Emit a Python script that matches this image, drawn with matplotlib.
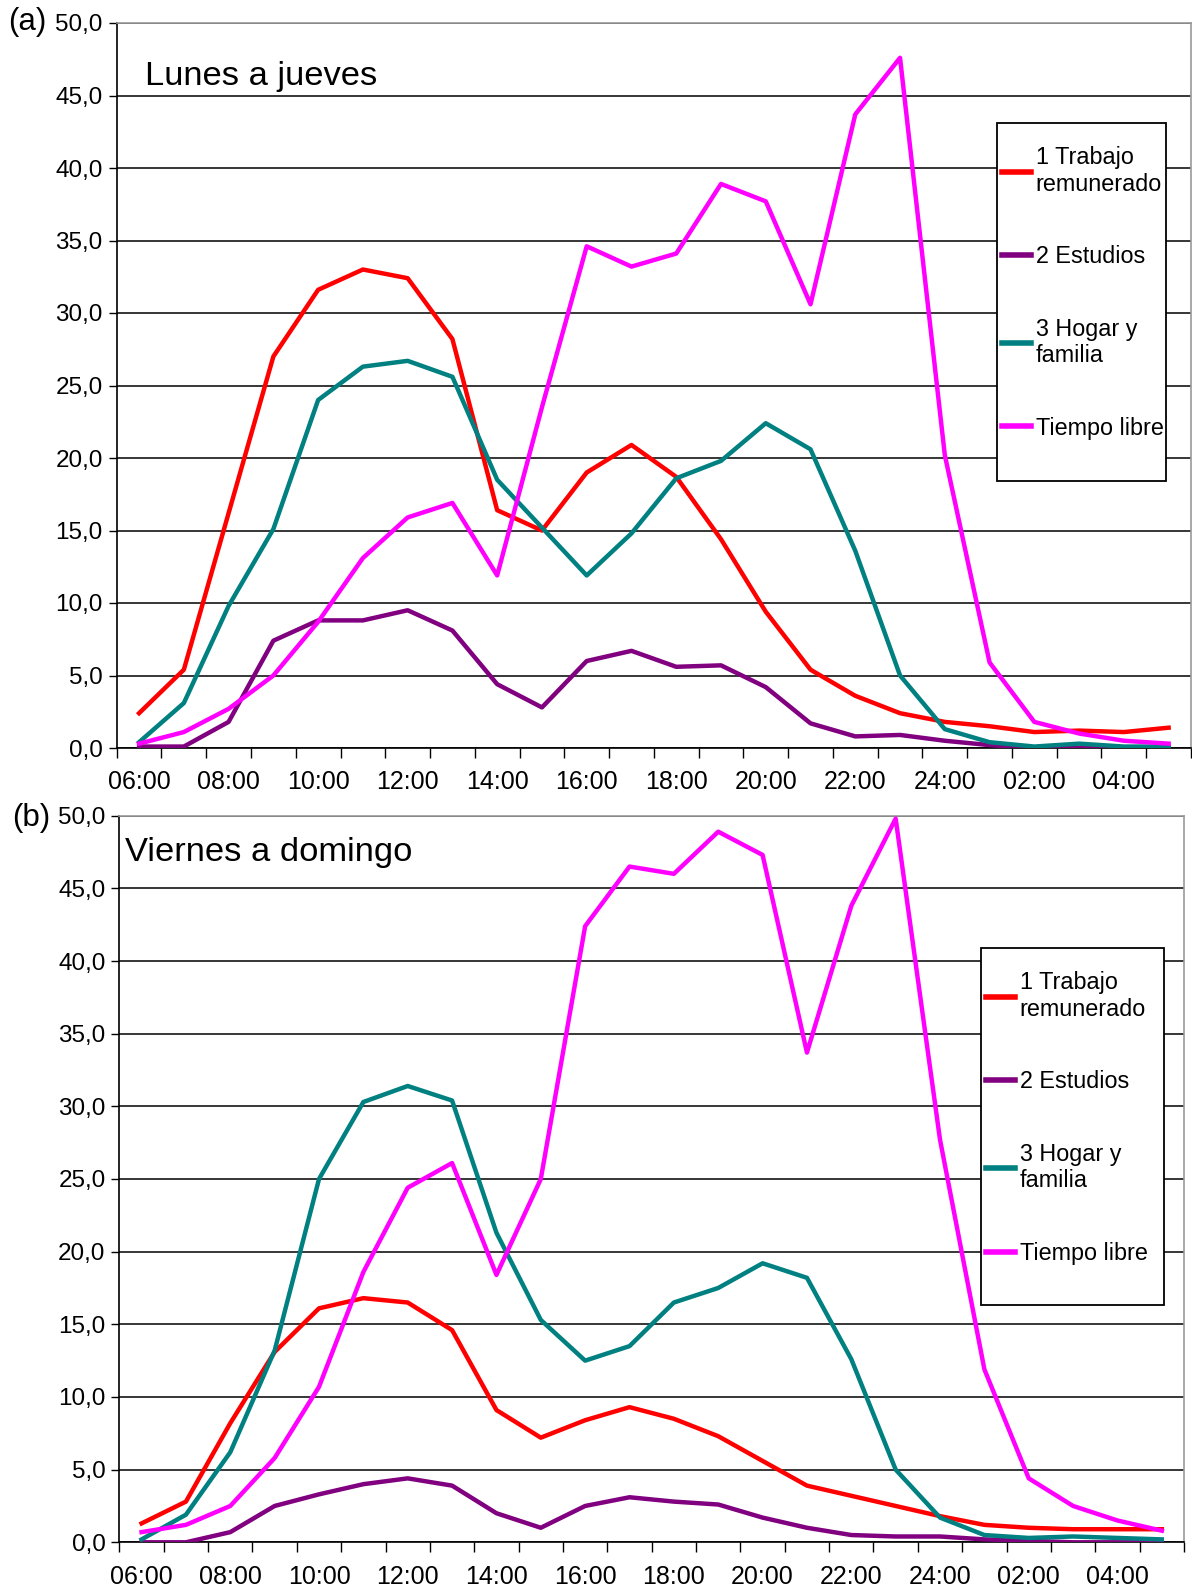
import numpy as np
import matplotlib
matplotlib.use("Agg")
import matplotlib.pyplot as plt
from matplotlib.patches import Rectangle

plt.rcParams['font.family'] = ['Liberation Sans', 'DejaVu Sans']

# Data: share of people (%) in each activity, by hour of the day
horas = ['06:00', '07:00', '08:00', '09:00', '10:00', '11:00', '12:00', '13:00',
         '14:00', '15:00', '16:00', '17:00', '18:00', '19:00', '20:00', '21:00',
         '22:00', '23:00', '24:00', '01:00', '02:00', '03:00', '04:00', '05:00']

series_names = ['1 Trabajo\nremunerado', '2 Estudios', '3 Hogar y\nfamilia', 'Tiempo libre']
series_colors = ['#FF0000', '#800080', '#008080', '#FF00FF']

# (a) Lunes a jueves
trabajo_a = [2.4, 5.4, 16.2, 27.0, 31.6, 33.0, 32.4, 28.2, 16.4, 15.0, 19.0, 20.9,
             18.7, 14.4, 9.4, 5.4, 3.6, 2.4, 1.8, 1.5, 1.1, 1.2, 1.1, 1.4]
estudios_a = [0.1, 0.1, 1.8, 7.4, 8.8, 8.8, 9.5, 8.1, 4.4, 2.8, 6.0, 6.7,
              5.6, 5.7, 4.2, 1.7, 0.8, 0.9, 0.5, 0.2, 0.0, 0.0, 0.0, 0.0]
hogar_a = [0.4, 3.1, 9.8, 15.1, 24.0, 26.3, 26.7, 25.6, 18.5, 15.2, 11.9, 14.8,
           18.6, 19.8, 22.4, 20.6, 13.6, 5.0, 1.3, 0.4, 0.1, 0.3, 0.1, 0.1]
libre_a = [0.3, 1.1, 2.7, 5.0, 8.7, 13.1, 15.9, 16.9, 11.9, 23.5, 34.6, 33.2,
           34.1, 38.9, 37.7, 30.6, 43.7, 47.6, 20.2, 5.9, 1.8, 1.0, 0.5, 0.3]

# (b) Viernes a domingo
trabajo_b = [1.3, 2.8, 8.2, 13.1, 16.1, 16.8, 16.5, 14.6, 9.1, 7.2, 8.4, 9.3,
             8.5, 7.3, 5.6, 3.9, 3.2, 2.5, 1.8, 1.2, 1.0, 0.9, 0.9, 0.9]
estudios_b = [0.0, 0.0, 0.7, 2.5, 3.3, 4.0, 4.4, 3.9, 2.0, 1.0, 2.5, 3.1,
              2.8, 2.6, 1.7, 1.0, 0.5, 0.4, 0.4, 0.2, 0.1, 0.0, 0.0, 0.0]
hogar_b = [0.2, 1.9, 6.2, 13.2, 25.0, 30.3, 31.4, 30.4, 21.3, 15.3, 12.5, 13.5,
           16.5, 17.5, 19.2, 18.2, 12.6, 5.0, 1.7, 0.5, 0.3, 0.4, 0.3, 0.2]
libre_b = [0.7, 1.2, 2.5, 5.8, 10.7, 18.6, 24.4, 26.1, 18.4, 25.0, 42.4, 46.5,
           46.0, 48.9, 47.3, 33.7, 43.8, 49.8, 27.7, 11.9, 4.4, 2.5, 1.5, 0.8]

# layout in pixels of the 1192x1590 figure
panels = [
    {'tag': '(a)', 'title': 'Lunes a jueves',
     'data': [trabajo_a, estudios_a, hogar_a, libre_a],
     'rect': [116.7, 23, 1191, 748], 'title_pos': (145, 76),
     'legbox': [997, 123, 1166, 481], 'tag_pos': (8, 22)},
    {'tag': '(b)', 'title': 'Viernes a domingo',
     'data': [trabajo_b, estudios_b, hogar_b, libre_b],
     'rect': [119.4, 815.7, 1184, 1542.3], 'title_pos': (125, 853),
     'legbox': [980.8, 948.3, 1163.6, 1305], 'tag_pos': (12, 818)},
]

W, H = 1192, 1590
fig = plt.figure(figsize=(W / 100, H / 100), dpi=100)

x = np.arange(len(horas))
yticks = np.arange(0, 50.1, 5)

for p in panels:
    l, t, r, b = p['rect']
    ax = fig.add_axes([l / W, 1 - b / H, (r - l) / W, (b - t) / H])

    def to_axes(px, py):
        return (px - l) / (r - l), (b - py) / (b - t)

    for vals, name, col in zip(p['data'], series_names, series_colors):
        ax.plot(x, vals, color=col, lw=3.2, label=name, zorder=3)

    ax.set_xlim(-0.5, len(horas) - 0.5)
    ax.set_ylim(0, 50)

    # y axis with comma decimals and black gridlines
    ax.set_yticks(yticks, [f"{v:.1f}".replace('.', ',') for v in yticks])
    ax.yaxis.grid(True, color='black', lw=1.1, zorder=1)
    ax.tick_params(axis='y', length=6, width=1, pad=4, labelsize=17.5)

    # x axis: tick marks between categories, labels every two hours
    ax.set_xticks(x[::2], horas[::2])
    ax.set_xticks(np.arange(-0.5, len(horas), 1), minor=True)
    ax.tick_params(axis='x', which='major', length=0, pad=16, labelsize=18)
    ax.tick_params(axis='x', which='minor', length=7, width=1, direction='out')

    for side in ['left', 'bottom']:
        ax.spines[side].set_color('black')
        ax.spines[side].set_linewidth(1.2)
    for side in ['top', 'right']:
        ax.spines[side].set_color('#999999')
        ax.spines[side].set_linewidth(1.2)
    ax.set_axisbelow(True)

    tx, ty = to_axes(*p['title_pos'])
    ax.text(tx, ty, p['title'], transform=ax.transAxes, fontsize=24.8,
            va='center', ha='left')
    fig.text(p['tag_pos'][0] / W, 1 - p['tag_pos'][1] / H, p['tag'], fontsize=22.5,
             va='center', ha='left')

    # legend box drawn separately so its padding matches the original
    bl, bt, br, bb = p['legbox']
    bx0, by0 = to_axes(bl, bb)
    bx1, by1 = to_axes(br, bt)
    ax.add_patch(Rectangle((bx0, by0), bx1 - bx0, by1 - by0, transform=ax.transAxes,
                           facecolor='white', edgecolor='black', lw=1.3,
                           zorder=4, clip_on=False))
    lx, ly = to_axes(bl + 5, bt + 23)
    leg = ax.legend(loc='upper left', bbox_to_anchor=(lx, ly), fontsize=16.8,
                    frameon=False, handlelength=1.25, handletextpad=0.2,
                    labelspacing=2.12, borderpad=0, borderaxespad=0)
    leg.set_zorder(5)
    for line in leg.get_lines():
        line.set_linewidth(4)

fig.savefig('out.png', dpi=100)
